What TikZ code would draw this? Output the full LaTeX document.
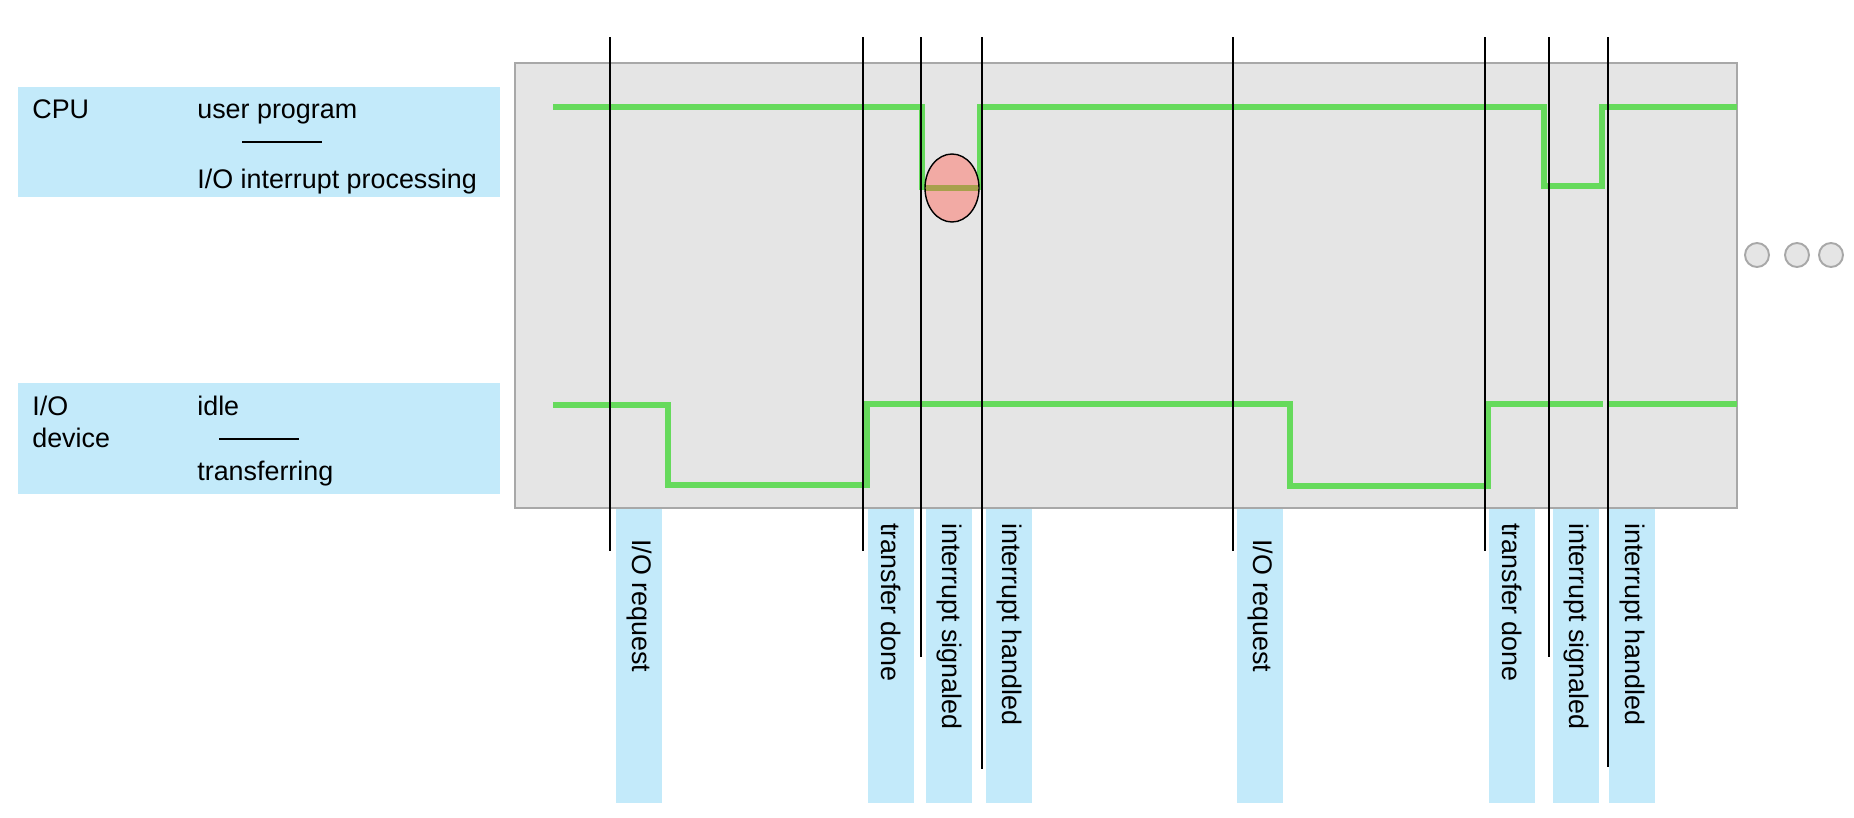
\documentclass[tikz,border=0pt]{standalone}
\usepackage{fontspec}
\setmainfont{Liberation Sans}
\usetikzlibrary{positioning}
\definecolor{labelblue}{RGB}{195,234,250}
\definecolor{panelgrey}{RGB}{229,229,229}
\definecolor{edgegrey}{RGB}{168,168,168}
\definecolor{signalgreen}{RGB}{102,218,92}
\definecolor{isrpink}{RGB}{242,170,164}
\definecolor{isrolive}{RGB}{168,160,76}

\begin{document}
\begin{tikzpicture}[x=0.02cm, y=-0.02cm, font=\fontsize{15.3}{18}\selectfont,
    signal/.style={line width=3.8pt, signalgreen},
    event/.style={line width=1.3pt, black},
    legend/.style={anchor=base west, inner sep=0pt},
    tagtext/.style={rotate=-90, anchor=west, inner sep=0pt}]
    \useasboundingbox (0,0) rectangle (1854,818);

    % legend boxes
    \fill[labelblue] (18,87) rectangle (500,197);
    \node[legend] (cpu) at (32,118) {CPU};
    \node[legend] (userprog) at (197,118) {user program};
    \node[legend] (iointr) at (197,188) {I/O interrupt processing};
    \draw[line width=1pt] (242,142) -- (322,142);

    \fill[labelblue] (18,383) rectangle (500,494);
    \node[legend] (iodev) at (32,415) {I/O};
    \node[legend] (device) at (32,447) {device};
    \node[legend] (idle) at (197,415) {idle};
    \node[legend] (transf) at (197,480) {transferring};
    \draw[line width=1pt] (219,439) -- (299,439);

    % time panel
    \draw[fill=panelgrey, draw=edgegrey, line width=1.1pt] (515,63) rectangle (1737,508);

    % CPU activity
    \draw[signal] (553,107) -- (922,107) -- (922,187) -- (980,187) -- (980,107)
        -- (1544,107) -- (1544,186) -- (1602,186) -- (1602,107) -- (1737,107);

    % I/O device activity
    \draw[signal] (553,405) -- (668,405) -- (668,485) -- (867,485) -- (867,404)
        -- (1290,404) -- (1290,486) -- (1488,486) -- (1488,404) -- (1603,404);
    \draw[signal] (1607,404) -- (1737,404);

    % interrupt service
    \fill[isrpink] (952,188) ellipse [x radius=27, y radius=34];
    \draw[isrolive, line width=3.4pt] (926,188) -- (978,188);
    \draw[line width=0.8pt] (952,188) ellipse [x radius=27, y radius=34];

    % events
    \foreach \x/\len/\w/\txt/\off [count=\i] in {
        610/551/616/{I/O request}/539,
        863/551/868/{transfer done}/523,
        921/657/926/{interrupt signaled}/523,
        982/769/986/{interrupt handled}/523,
        1233/551/1237/{I/O request}/539,
        1485/551/1489/{transfer done}/523,
        1549/657/1553/{interrupt signaled}/523,
        1608/767/1609/{interrupt handled}/523} {
        \coordinate (ev\i top) at (\x,37);
        \coordinate (ev\i end) at (\x,\len);
        \draw[event] (ev\i top) -- (ev\i end);
        \fill[labelblue] (\w,509) rectangle ++(46,294);
        \node[tagtext] (tag\i) at (\w+23,\off) {\txt};
    }

    % more to come
    \foreach \cx [count=\j] in {1757,1797,1831}
        \draw[fill=panelgrey, draw=edgegrey, line width=1.1pt] (\cx,255) circle [radius=12];
\end{tikzpicture}
\end{document}
